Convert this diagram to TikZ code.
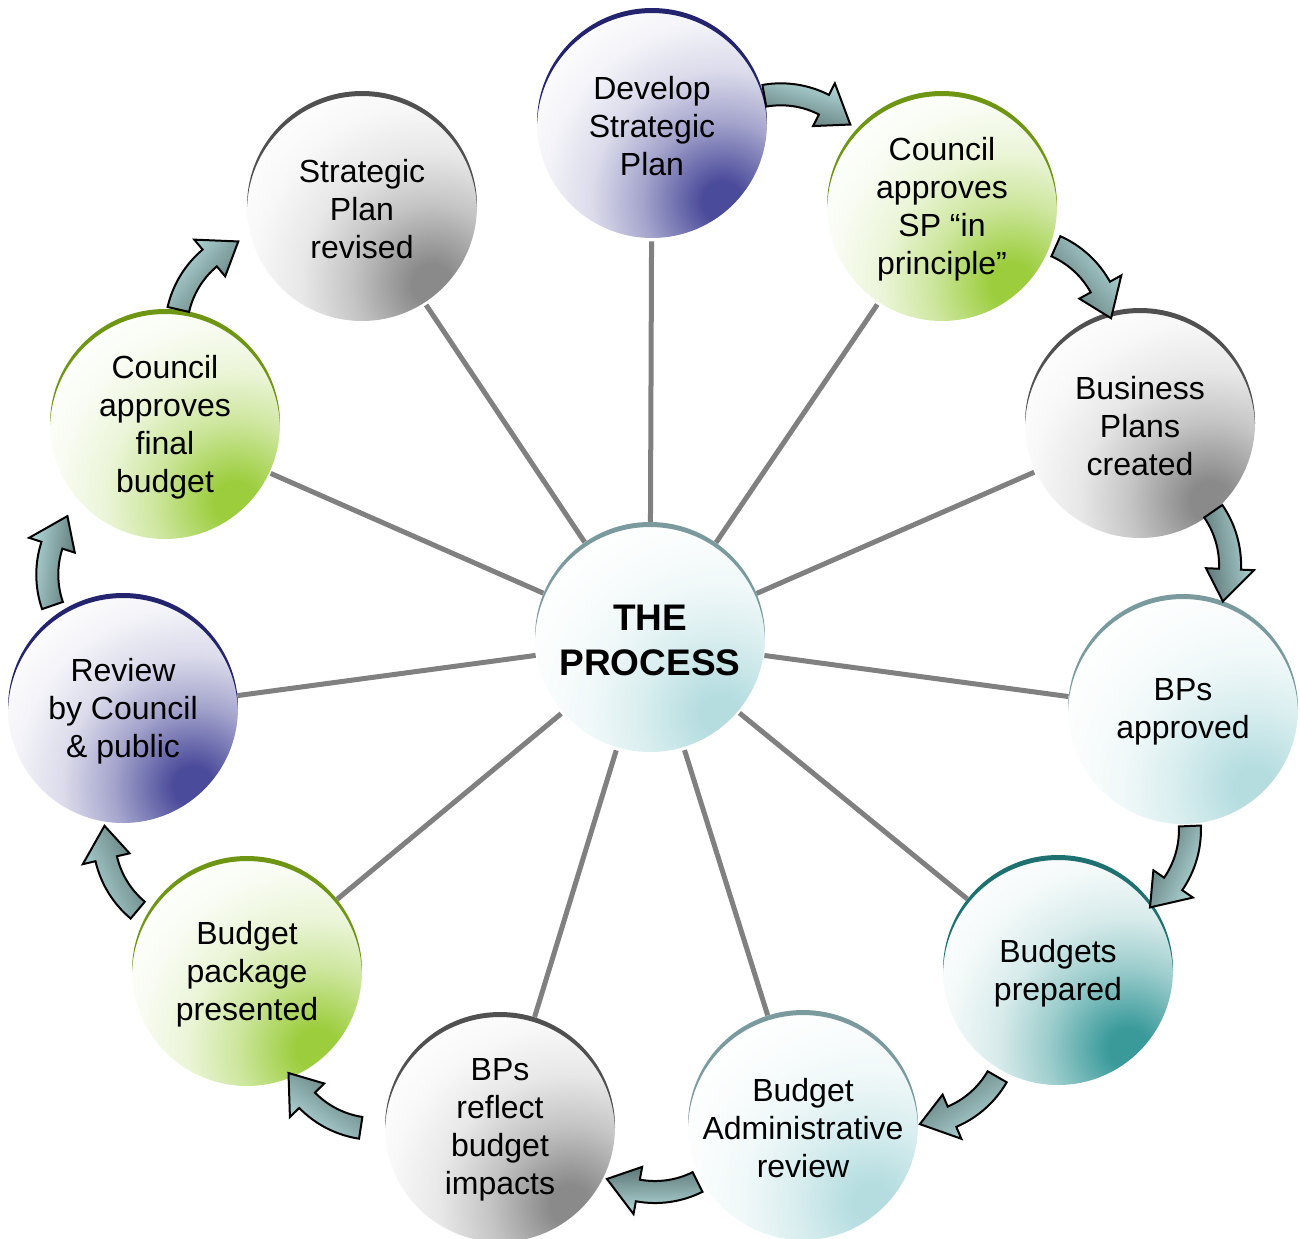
\documentclass[tikz,border=0pt]{standalone}
\usepackage{fontspec}
\setmainfont{Liberation Sans}
\usetikzlibrary{calc}
\pgfdeclarelayer{lines}
\pgfsetlayers{lines,main}
\definecolor{navyF}{HTML}{4B4B9B}
\definecolor{navyA}{HTML}{24246E}
\definecolor{greenF}{HTML}{9BCD3C}
\definecolor{greenA}{HTML}{6E9614}
\definecolor{greyF}{HTML}{8A8A8A}
\definecolor{greyA}{HTML}{505050}
\definecolor{cyanF}{HTML}{B5DDE0}
\definecolor{cyanA}{HTML}{7A9A9E}
\definecolor{tealF}{HTML}{3A9A9A}
\definecolor{tealA}{HTML}{1F7070}
\definecolor{spokegray}{HTML}{808080}
\definecolor{arrowLight}{HTML}{B5DCDC}
\definecolor{arrowDark}{HTML}{5C7575}
\colorlet{shcol}{white}
\pgfdeclareradialshading[shcol]{bubshade}{\pgfpointorigin}{%
  color(0bp)=(shcol); color(10bp)=(shcol); color(40bp)=(shcol!50!white);
  color(65bp)=(shcol!20!white); color(90bp)=(shcol!6!white); color(115bp)=(white)}
\tikzset{
  bubbletext/.style={circle, minimum size=115pt, inner sep=0pt, align=center,
    font=\fontsize{16}{19}\selectfont},
  centretext/.style={font=\fontsize{18.5}{22.5}\selectfont\bfseries},
  spoke/.style={draw=spokegray, line width=2.5pt},
  flowarrow/.style={draw=black, line width=1pt, left color=arrowLight, right color=arrowDark},
}
% name, x, y, fill colour, arc colour, text, extra node style
\newcommand\bubble[7]{%
  \begin{scope}
    \colorlet{shcol}{#4}%
    \clip (#2,#3) circle (115);
    \fill[white] (#2,#3) circle (115);
    \node[inner sep=0pt, outer sep=0pt] at (#2+70,#3+78) {\pgfuseshading{bubshade}};
  \end{scope}
  \begin{scope}
    \clip (#2-120,#3) rectangle (#2+120,#3-125);
    \fill[#5, even odd rule] (#2,#3) circle (115) (#2,#3+5) circle (115);
  \end{scope}
  \node[bubbletext, #7] (#1) at (#2,#3+3) {#6};
}
% x, y, rotation
\newcommand\cyclearrow[3]{%
  \begin{scope}[shift={(#1,#2)}, rotate=#3, shift={(0,95)}]
    \shadedraw[flowarrow, shading angle=#3]
      (-116:84) arc (-116:-79:84) -- (-79:71) -- (-59:95) -- (-79:119)
      -- (-79:106) arc (-79:-116:106) -- cycle;
  \end{scope}
}
\begin{document}
\begin{tikzpicture}[x=0.5pt, y=-0.5pt]
\useasboundingbox (0,0) rectangle (1300,1238);

\bubble{proc}{650}{637}{cyanF}{cyanA}{THE\\PROCESS}{centretext}
\bubble{dev}{652}{123}{navyF}{navyA}{Develop\\Strategic\\Plan}{}
\bubble{csp}{942}{206}{greenF}{greenA}{Council\\approves\\SP “in\\principle”}{}
\bubble{bpc}{1140}{423}{greyF}{greyA}{Business\\Plans\\created}{}
\bubble{bpa}{1183}{709}{cyanF}{cyanA}{BPs\\approved}{}
\bubble{bud}{1058}{970}{tealF}{tealA}{Budgets\\prepared}{}
\bubble{adm}{803}{1125}{cyanF}{cyanA}{Budget\\Administrative\\review}{}
\bubble{bpr}{500}{1127}{greyF}{greyA}{BPs\\reflect\\budget\\impacts}{}
\bubble{pkg}{247}{971}{greenF}{greenA}{Budget\\package\\presented}{}
\bubble{rev}{123}{708}{navyF}{navyA}{Review\\by Council\\\& public}{}
\bubble{cfb}{165}{424}{greenF}{greenA}{Council\\approves\\final\\budget}{}
\bubble{spr}{362}{206}{greyF}{greyA}{Strategic\\Plan\\revised}{}

\begin{pgfonlayer}{lines}
  \fill[white] (0,0) rectangle (1300,1238);
  \foreach \n in {dev,csp,bpc,bpa,bud,adm,bpr,pkg,rev,cfb,spr}
    \draw[spoke] (proc) -- (\n);
\end{pgfonlayer}

\cyclearrow{807}{98}{-16}
\cyclearrow{1090}{272}{-50}
\cyclearrow{1229}{551}{-81.4}
\cyclearrow{1182}{868}{-113.6}
\cyclearrow{968}{1108}{-146}
\cyclearrow{656}{1192}{-179.4}
\cyclearrow{321}{1112}{-214.7}
\cyclearrow{112}{876}{-246}
\cyclearrow{48}{563}{-277}
\cyclearrow{197}{271}{-308.9}
\end{tikzpicture}
\end{document}
